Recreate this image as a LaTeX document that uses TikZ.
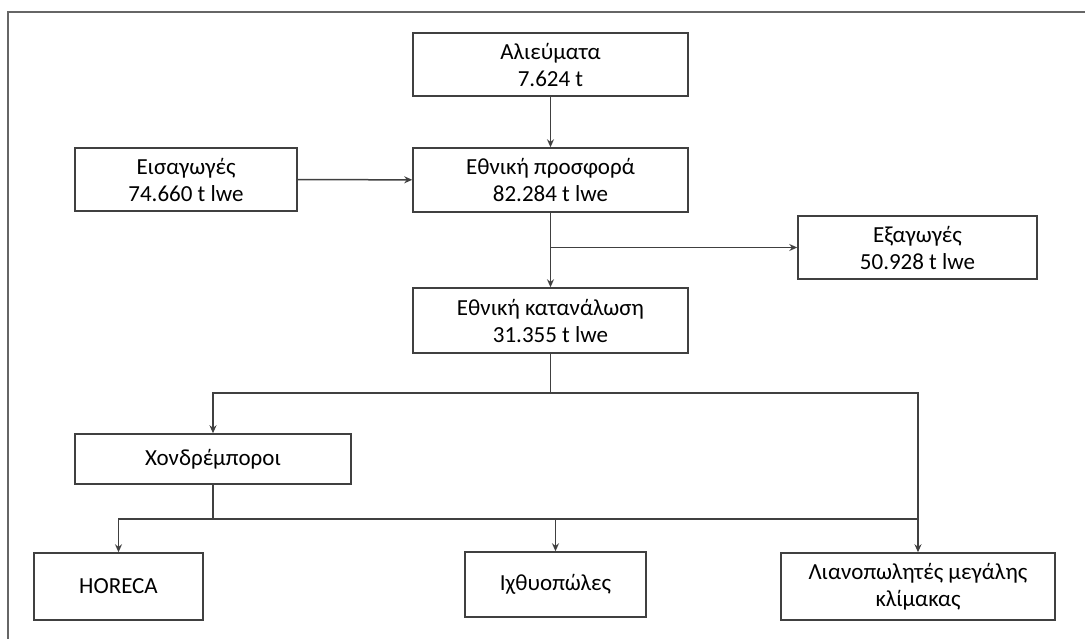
\documentclass[tikz,border=0pt]{standalone}
\usepackage{fontspec}
\setmainfont{Carlito}
\usepackage{tikz}
\usetikzlibrary{positioning,arrows.meta}
\definecolor{linegray}{HTML}{404040}
\tikzset{fbox/.style={draw=linegray,line width=1.5pt,rectangle,align=center,inner sep=0pt,font=\fontsize{23}{27}\selectfont}}
\tikzset{flow/.style={->,>={Stealth[length=8pt,width=7pt]},draw=linegray,line width=1.5pt}}
\tikzset{fline/.style={draw=linegray,line width=1.5pt}}

\begin{document}
\begin{tikzpicture}[x=1pt,y=-1pt]
    \useasboundingbox (0,0) rectangle (1085,639);
    \draw[draw=gray!80!black,line width=1.5pt] (8,639) -- (8,12) -- (1085,12);
    \node[fbox,minimum width=275pt,minimum height=63pt] (alie) at (550.5,64.5) {Αλιεύματα\\7.624 t};
    \node[fbox,minimum width=275pt,minimum height=64pt] (prosf) at (550.5,180) {Εθνική προσφορά\\82.284 t lwe};
    \node[fbox,minimum width=222pt,minimum height=63pt] (eisag) at (186,179.5) {Εισαγωγές\\74.660 t lwe};
    \node[fbox,minimum width=239pt,minimum height=63pt] (exag) at (917.5,247.5) {Εξαγωγές\\50.928 t lwe};
    \node[fbox,minimum width=275pt,minimum height=65pt] (katan) at (550.5,320.5) {Εθνική κατανάλωση\\31.355 t lwe};
    \node[fbox,minimum width=276pt,minimum height=50pt] (xondr) at (213,459) {Χονδρέμποροι};
    \node[fbox,minimum width=169pt,minimum height=67pt] (horeca) at (118.5,586.5) {HORECA};
    \node[fbox,minimum width=181pt,minimum height=65pt] (ixth) at (555.5,584.5) {Ιχθυοπώλες};
    \node[fbox,minimum width=274pt,minimum height=67pt] (lianop) at (918,586.5) {Λιανοπωλητές μεγάλης\\κλίμακας};
    \coordinate (kbranch) at (550.5,393);
    \coordinate (xbranch) at (213,519);
    \draw[flow] (alie) -- (prosf);
    \draw[flow] (eisag) -- (prosf);
    \draw[flow] (prosf) -- (katan);
    \draw[flow] (prosf.south |- exag.west) -- (exag.west);
    \draw[fline] (katan.south) -- (kbranch);
    \draw[flow] (kbranch) -| (xondr.north);
    \draw[flow] (kbranch) -| (lianop.north);
    \draw[fline] (xondr.south) -- (xbranch);
    \draw[flow] (xbranch) -| (horeca.north);
    \draw[flow] (xbranch) -| (ixth.north);
    \draw[fline] (xbranch) -- (xbranch -| lianop.north);
\end{tikzpicture}
\end{document}
